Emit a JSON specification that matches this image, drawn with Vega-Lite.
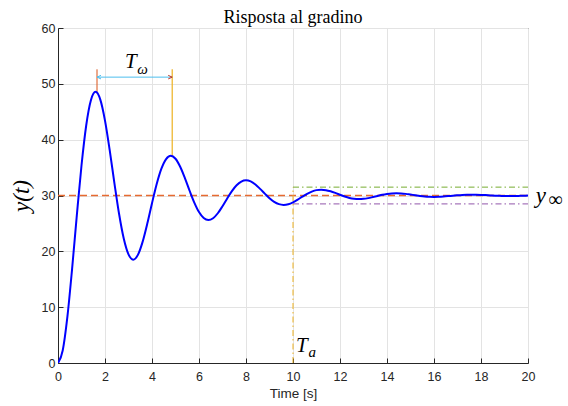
{
  "$schema": "https://vega.github.io/schema/vega-lite/v6.json",
  "width": 470,
  "height": 335,
  "autosize": {"type": "none"},
  "padding": {"left": 58, "top": 28, "right": 40, "bottom": 43},
  "background": "white",
  "config": {
    "view": {"stroke": "#262626", "strokeWidth": 1},
    "axis": {
      "grid": true,
      "gridColor": "#e3e3e3",
      "gridWidth": 1,
      "domainColor": "#262626",
      "tickColor": "#262626",
      "labelColor": "#262626",
      "labelFont": "Liberation Sans",
      "labelFontSize": 12.5,
      "titleFont": "Liberation Sans",
      "titleFontWeight": "normal",
      "titleColor": "#262626",
      "labelOverlap": false
    },
    "axisX": {"tickCount": 10, "labelFlush": false},
    "axisY": {"tickCount": 6}
  },
  "title": {
    "text": "Risposta al gradino",
    "font": "Liberation Serif",
    "fontSize": 18,
    "fontWeight": "normal",
    "color": "#000000",
    "offset": -5
  },
  "datasets": {
    "resp": [
      {"t": 0, "y": 0}, {"t": 0.2, "y": 2.25}, {"t": 0.4, "y": 8.31}, {"t": 0.6, "y": 16.87}, {"t": 0.8, "y": 26.39},
      {"t": 1.0, "y": 35.37}, {"t": 1.2, "y": 42.54}, {"t": 1.4, "y": 47.06}, {"t": 1.6, "y": 48.56}, {"t": 1.8, "y": 47.17},
      {"t": 2.0, "y": 43.42}, {"t": 2.2, "y": 38.12}, {"t": 2.4, "y": 32.23}, {"t": 2.6, "y": 26.68}, {"t": 2.8, "y": 22.24},
      {"t": 3.0, "y": 19.44}, {"t": 3.2, "y": 18.51}, {"t": 3.4, "y": 19.37}, {"t": 3.6, "y": 21.70}, {"t": 3.8, "y": 24.97},
      {"t": 4.0, "y": 28.62}, {"t": 4.2, "y": 32.06}, {"t": 4.4, "y": 34.80}, {"t": 4.6, "y": 36.53}, {"t": 4.8, "y": 37.11},
      {"t": 5.0, "y": 36.58}, {"t": 5.2, "y": 35.14}, {"t": 5.4, "y": 33.11}, {"t": 5.6, "y": 30.85}, {"t": 5.8, "y": 28.73},
      {"t": 6.0, "y": 27.03}, {"t": 6.2, "y": 25.96}, {"t": 6.4, "y": 25.60}, {"t": 6.6, "y": 25.93}, {"t": 6.8, "y": 26.82},
      {"t": 7.0, "y": 28.08}, {"t": 7.2, "y": 29.47}, {"t": 7.4, "y": 30.79}, {"t": 7.6, "y": 31.84}, {"t": 7.8, "y": 32.50},
      {"t": 8.0, "y": 32.72}, {"t": 8.2, "y": 32.52}, {"t": 8.4, "y": 31.97}, {"t": 8.6, "y": 31.19}, {"t": 8.8, "y": 30.33},
      {"t": 9.0, "y": 29.51}, {"t": 9.2, "y": 28.86}, {"t": 9.4, "y": 28.45}, {"t": 9.6, "y": 28.32}, {"t": 9.8, "y": 28.44},
      {"t": 10.0, "y": 28.78}, {"t": 10.2, "y": 29.26}, {"t": 10.4, "y": 29.80}, {"t": 10.6, "y": 30.30}, {"t": 10.8, "y": 30.70},
      {"t": 11.0, "y": 30.96}, {"t": 11.2, "y": 31.04}, {"t": 11.4, "y": 30.96}, {"t": 11.6, "y": 30.75}, {"t": 11.8, "y": 30.46},
      {"t": 12.0, "y": 30.13}, {"t": 12.2, "y": 29.81}, {"t": 12.4, "y": 29.56}, {"t": 12.6, "y": 29.41}, {"t": 12.8, "y": 29.36},
      {"t": 13.0, "y": 29.40}, {"t": 13.2, "y": 29.53}, {"t": 13.4, "y": 29.72}, {"t": 13.6, "y": 29.92}, {"t": 13.8, "y": 30.12},
      {"t": 14.0, "y": 30.27}, {"t": 14.2, "y": 30.37}, {"t": 14.4, "y": 30.40}, {"t": 14.6, "y": 30.37}, {"t": 14.8, "y": 30.29},
      {"t": 15.0, "y": 30.17}, {"t": 15.2, "y": 30.05}, {"t": 15.4, "y": 29.93}, {"t": 15.6, "y": 29.83}, {"t": 15.8, "y": 29.77},
      {"t": 16.0, "y": 29.75}, {"t": 16.2, "y": 29.77}, {"t": 16.4, "y": 29.82}, {"t": 16.6, "y": 29.89}, {"t": 16.8, "y": 29.97},
      {"t": 17.0, "y": 30.04}, {"t": 17.2, "y": 30.10}, {"t": 17.4, "y": 30.14}, {"t": 17.6, "y": 30.15}, {"t": 17.8, "y": 30.14},
      {"t": 18.0, "y": 30.11}, {"t": 18.2, "y": 30.07}, {"t": 18.4, "y": 30.02}, {"t": 18.6, "y": 29.97}, {"t": 18.8, "y": 29.94},
      {"t": 19.0, "y": 29.91}, {"t": 19.2, "y": 29.91}, {"t": 19.4, "y": 29.91}, {"t": 19.6, "y": 29.93}, {"t": 19.8, "y": 29.96},
      {"t": 20.0, "y": 29.99}
    ],
    "steady": [{"x": 0, "x2": 20, "y": 30}],
    "upper": [{"x": 10, "x2": 20, "y": 31.5}],
    "lower": [{"x": 10, "x2": 20, "y": 28.5}],
    "settle": [{"x": 10, "y": 0, "y2": 31.5}],
    "peak1": [{"x": 1.66, "y": 48.3, "y2": 52.6}],
    "peak2": [{"x": 4.86, "y": 37.0, "y2": 52.6}],
    "arrow": [{"x": 1.66, "x2": 4.86, "y": 51.2}],
    "headL": [{"x": 1.66, "y": 51.2}],
    "headR": [{"x": 4.86, "y": 51.2}],
    "bigT": [{"x": 3.1, "y": 53.9, "label": "T"}, {"x": 10.38, "y": 3.0, "label": "T"}],
    "subs": [{"x": 3.6, "y": 52.7, "label": "ω"}, {"x": 10.82, "y": 1.9, "label": "a"}],
    "yinf": [{"x": 20.55, "y": 30.0, "label": "y"}],
    "inf": [{"x": 21.17, "y": 29.2, "label": "∞"}]
  },
  "layer": [
    {
      "data": {"name": "steady"},
      "mark": {"type": "rule", "color": "#E66A30", "stroke": "#E66A30", "strokeWidth": 1.5, "strokeDash": [7, 4], "opacity": 1},
      "encoding": {
        "x": {"field": "x", "type": "quantitative", "scale": {"domain": [0, 20], "nice": false},
          "axis": {"title": "Time [s]", "titleFontSize": 13.5, "titlePadding": 4, "tickSize": -5, "labelPadding": 12}},
        "x2": {"field": "x2"},
        "y": {"field": "y", "type": "quantitative", "scale": {"domain": [0, 60], "nice": false},
          "axis": {"title": "y(t)", "titleFont": "Liberation Serif", "titleFontStyle": "italic", "titleFontSize": 23, "titleColor": "#000000", "titlePadding": 8, "tickSize": -5, "labelPadding": 8}}
      }
    },
    {
      "data": {"name": "upper"},
      "mark": {"type": "rule", "color": "#77AC30", "strokeWidth": 1, "strokeDash": [6, 3, 1.5, 3]},
      "encoding": {"x": {"field": "x", "type": "quantitative"}, "x2": {"field": "x2"}, "y": {"field": "y", "type": "quantitative"}}
    },
    {
      "data": {"name": "lower"},
      "mark": {"type": "rule", "color": "#A878BC", "strokeWidth": 1.2, "strokeDash": [6, 3, 1.5, 3]},
      "encoding": {"x": {"field": "x", "type": "quantitative"}, "x2": {"field": "x2"}, "y": {"field": "y", "type": "quantitative"}}
    },
    {
      "data": {"name": "settle"},
      "mark": {"type": "rule", "color": "#EDB120", "strokeWidth": 1, "strokeDash": [6, 3, 1.5, 3]},
      "encoding": {"x": {"field": "x", "type": "quantitative"}, "y": {"field": "y", "type": "quantitative"}, "y2": {"field": "y2"}}
    },
    {
      "data": {"name": "peak1"},
      "mark": {"type": "rule", "color": "#D95319", "strokeWidth": 1},
      "encoding": {"x": {"field": "x", "type": "quantitative"}, "y": {"field": "y", "type": "quantitative"}, "y2": {"field": "y2"}}
    },
    {
      "data": {"name": "peak2"},
      "mark": {"type": "rule", "color": "#EDB120", "strokeWidth": 1.2},
      "encoding": {"x": {"field": "x", "type": "quantitative"}, "y": {"field": "y", "type": "quantitative"}, "y2": {"field": "y2"}}
    },
    {
      "data": {"name": "resp"},
      "mark": {"type": "line", "color": "#0000FF", "strokeWidth": 2, "interpolate": "monotone", "clip": true},
      "encoding": {"x": {"field": "t", "type": "quantitative"}, "y": {"field": "y", "type": "quantitative"}}
    },
    {
      "data": {"name": "arrow"},
      "mark": {"type": "rule", "color": "#4DBEEE", "strokeWidth": 1},
      "encoding": {"x": {"field": "x", "type": "quantitative"}, "x2": {"field": "x2"}, "y": {"field": "y", "type": "quantitative"}}
    },
    {
      "data": {"name": "headL"},
      "mark": {"type": "point", "shape": "M 2 -0.9 L 0 0 L 2 0.9", "filled": false, "stroke": "#4DBEEE", "strokeWidth": 1, "size": 16, "opacity": 1},
      "encoding": {"x": {"field": "x", "type": "quantitative"}, "y": {"field": "y", "type": "quantitative"}}
    },
    {
      "data": {"name": "headR"},
      "mark": {"type": "point", "shape": "M -2 -0.9 L 0 0 L -2 0.9", "filled": false, "stroke": "#C0392B", "strokeWidth": 1, "size": 16, "opacity": 1},
      "encoding": {"x": {"field": "x", "type": "quantitative"}, "y": {"field": "y", "type": "quantitative"}}
    },
    {
      "data": {"name": "bigT"},
      "mark": {"type": "text", "font": "Liberation Serif", "fontStyle": "italic", "fontSize": 21, "color": "#000000", "align": "center", "baseline": "middle"},
      "encoding": {"x": {"field": "x", "type": "quantitative"}, "y": {"field": "y", "type": "quantitative"}, "text": {"field": "label"}}
    },
    {
      "data": {"name": "subs"},
      "mark": {"type": "text", "font": "Liberation Serif", "fontStyle": "italic", "fontSize": 15, "color": "#000000", "align": "center", "baseline": "middle"},
      "encoding": {"x": {"field": "x", "type": "quantitative"}, "y": {"field": "y", "type": "quantitative"}, "text": {"field": "label"}}
    },
    {
      "data": {"name": "yinf"},
      "mark": {"type": "text", "font": "Liberation Serif", "fontStyle": "italic", "fontSize": 23, "color": "#000000", "align": "center", "baseline": "middle", "clip": false},
      "encoding": {"x": {"field": "x", "type": "quantitative"}, "y": {"field": "y", "type": "quantitative"}, "text": {"field": "label"}}
    },
    {
      "data": {"name": "inf"},
      "mark": {"type": "text", "font": "Liberation Serif", "fontSize": 20, "color": "#000000", "align": "center", "baseline": "middle", "clip": false},
      "encoding": {"x": {"field": "x", "type": "quantitative"}, "y": {"field": "y", "type": "quantitative"}, "text": {"field": "label"}}
    }
  ]
}
